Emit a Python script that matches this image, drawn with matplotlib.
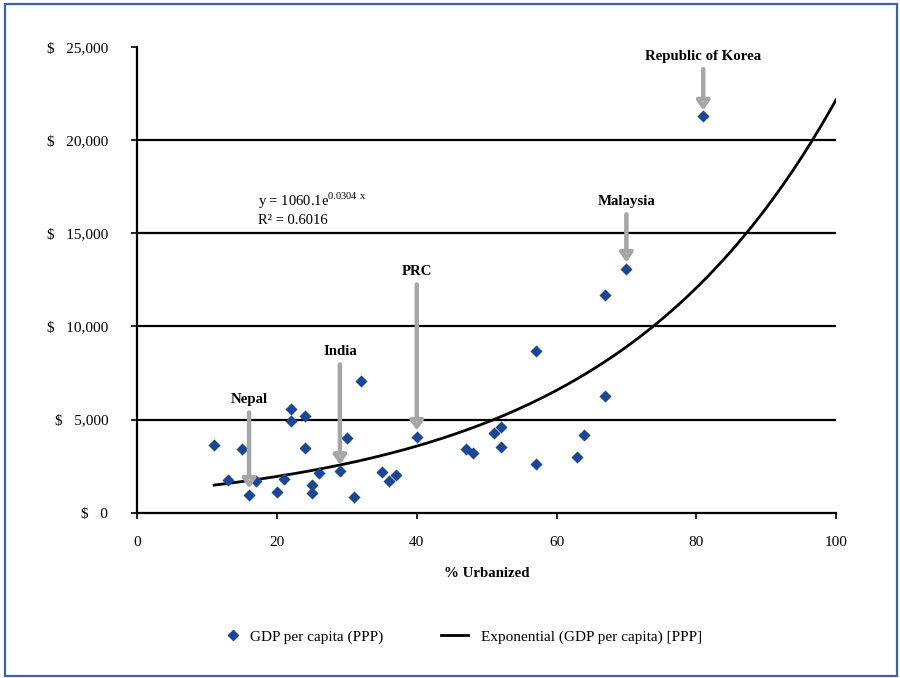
import numpy as np
import matplotlib
matplotlib.use("Agg")
import matplotlib.pyplot as plt
from matplotlib.patches import Rectangle
from matplotlib.lines import Line2D

plt.rcParams['font.family'] = ['Liberation Serif', 'DejaVu Serif']
plt.rcParams['mathtext.fontset'] = 'custom'
plt.rcParams['mathtext.rm'] = 'Liberation Serif'

# ---- data ----
urbanized = [11, 13, 15, 16, 17, 20, 21, 22, 22, 24, 24, 25, 25, 26, 29, 30, 31, 32,
             35, 36, 37, 40, 47, 48, 51, 52, 52, 57, 57, 63, 64, 67, 67, 70, 81]
gdp = [3650, 1770, 3440, 970, 1690, 1130, 1790, 5550, 4910, 5190, 3490, 1490, 1060,
       2120, 2240, 4000, 860, 7060, 2200, 1720, 2010, 4080, 3420, 3210, 4280, 4590,
       3530, 8700, 2620, 2980, 4160, 11680, 6270, 13100, 21270]

# trend line (exponential fit as reported on the chart)
fit_a = 1060.1
fit_b = 0.0304
fit_r2 = 0.6016
fit_x_range = [11, 100]

labels = ["Republic of Korea", "Malaysia", "PRC", "India", "Nepal"]
label_x = [81, 70, 40, 29, 16]
label_y = [21270, 13100, 4080, 2240, 970]
label_offset_pt = [43.3, 48.3, 118.8, 85.8, 68.3]

x_ticks = [0, 20, 40, 60, 80, 100]
y_ticks = [0, 5000, 10000, 15000, 20000, 25000]
y_grid = [5000, 10000, 15000, 20000]

# ---- figure ----
fig = plt.figure(figsize=(9, 6.78), dpi=100)
fig.patch.set_facecolor('white')
fig.patches.append(Rectangle((5/900, 1-676/678), 892/900, 672/678, transform=fig.transFigure,
                             fill=False, edgecolor='#3d63ad', lw=1.6, zorder=10))

ax = fig.add_axes([137.3/900, 1-512.7/678, (836-137.3)/900, (512.7-47)/678])
ax.set_xlim(0, 100)
ax.set_ylim(0, 25000)

for g in y_grid:
    ax.axhline(g, color='black', lw=1.6, zorder=1)

marker_color = '#1a4694'
ax.scatter(urbanized, gdp, marker='D', s=38, color=marker_color, zorder=3, linewidths=0)

xs = np.linspace(fit_x_range[0], fit_x_range[1], 200)
ax.plot(xs, fit_a*np.exp(fit_b*xs), color='black', lw=2.0, zorder=2)

for spine in ['top', 'right']:
    ax.spines[spine].set_visible(False)
for spine in ['left', 'bottom']:
    ax.spines[spine].set_linewidth(1.6)

ax.set_xticks(x_ticks)
ax.set_xticklabels([str(t) for t in x_ticks])
ax.set_yticks(y_ticks)
ax.set_yticklabels(["$   {:,}".format(t) for t in y_ticks])
ax.tick_params(axis='both', direction='out', length=4, width=1.2, labelsize=11, colors='black')
ax.tick_params(axis='y', pad=17)
ax.tick_params(axis='x', pad=13)

ax.set_xlabel('% Urbanized', fontsize=10.7, fontweight='bold', labelpad=13)

# equation
ax.text(17.3, 16730, r'y = 1060.1e$^{\mathrm{0.0304\ x}}$', fontsize=10.5, ha='left', va='center')
ax.text(17.3, 15710, 'R² = {:.4f}'.format(fit_r2), fontsize=10.5, ha='left', va='center')

# annotations
for lab, lx, ly, off in zip(labels, label_x, label_y, label_offset_pt):
    ax.annotate(lab, xy=(lx, ly), xytext=(0, off), textcoords='offset points',
                ha='center', va='center', fontsize=10.7, fontweight='bold',
                arrowprops=dict(arrowstyle='-|>,head_length=0.5,head_width=0.35',
                                color='#a6a6a6', fc='#dcdcdc', lw=3.2,
                                shrinkA=2.5, shrinkB=4.5))

# legend (two separately placed entries)
h1 = Line2D([], [], marker='D', linestyle='none', color=marker_color, markersize=5)
h2 = Line2D([], [], color='black', lw=2.0)
leg1 = fig.legend([h1], ['GDP per capita (PPP)'], loc='center left',
                  bbox_to_anchor=(225/900, 1-637/678), frameon=False, fontsize=11,
                  handlelength=1.0, handletextpad=0.62, borderpad=0, borderaxespad=0)
leg2 = fig.legend([h2], ['Exponential (GDP per capita) [PPP]'], loc='center left',
                  bbox_to_anchor=(441/900, 1-637/678), frameon=False, fontsize=11,
                  handlelength=1.77, handletextpad=0.85, borderpad=0, borderaxespad=0)

fig.savefig('out.png', dpi=100)
